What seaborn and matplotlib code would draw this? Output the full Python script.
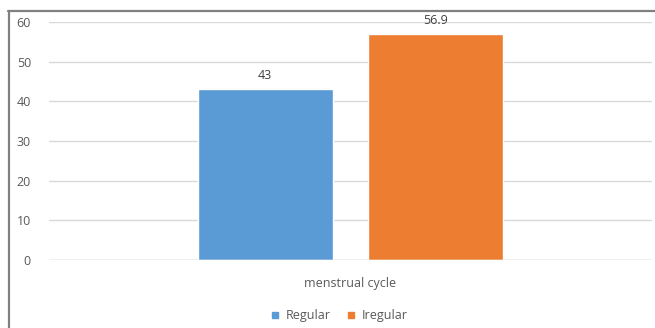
import matplotlib
matplotlib.use("Agg")
import matplotlib.pyplot as plt
from matplotlib.lines import Line2D
import seaborn as sns
import pandas as pd

categories = ["menstrual cycle"]
groups = ["Regular", "Iregular"]
values = [43, 56.9]
label_texts = ["43", "56.9"]
colors = ["#5B9BD5", "#ED7D31"]

df = pd.DataFrame({"cat": categories * 2, "group": groups, "value": values})

sns.set_style("white")
plt.rcParams["font.family"] = ["Open Sans", "DejaVu Sans"]
W, H = 655, 328
fig = plt.figure(figsize=(W / 100, H / 100), dpi=100)
ax = fig.add_axes([49 / W, (H - 260) / H, (652 - 49) / W, (260 - 22) / H])

sns.barplot(data=df, x="cat", y="value", hue="group", palette=colors,
            width=0.5655, gap=0.2055, ax=ax, legend=False, errorbar=None,
            saturation=1)

fs = 9
ax.set_ylim(0, 60)
ax.set_xlim(-0.5, 0.5)
ax.set_yticks(range(0, 61, 10))
ax.yaxis.grid(True, color="#d9d9d9", linewidth=1)
ax.set_axisbelow(True)
for s in ax.spines.values():
    s.set_visible(False)
ax.tick_params(axis="both", length=0, labelsize=fs, labelcolor="#595959")
ax.tick_params(axis="y", pad=13)
ax.tick_params(axis="x", pad=12)
ax.set_xlabel("")
ax.set_ylabel("")
ax.axhline(0, color="#d9d9d9", linewidth=1)

for cont, lab in zip(ax.containers, label_texts):
    ax.bar_label(cont, labels=[lab], padding=5, fontsize=fs, color="#404040")

handles = [Line2D([], [], marker="s", linestyle="", markersize=5,
                  markerfacecolor=c, markeredgecolor=c) for c in colors]
fig.legend(handles, groups, loc="center", bbox_to_anchor=(339 / W, 1 - 316 / H),
           ncol=2, frameon=False, fontsize=fs, labelcolor="#595959",
           handletextpad=0.45, columnspacing=1.2, handlelength=0.8)

border = "#808080"
fig.add_artist(Line2D([8.5 / W, 8.5 / W], [0, 1 - 10.5 / H], transform=fig.transFigure,
                      color=border, linewidth=1.6))
fig.add_artist(Line2D([8 / W, 1], [1 - 10.5 / H, 1 - 10.5 / H], transform=fig.transFigure,
                      color=border, linewidth=1.6))

fig.savefig("out.png", dpi=100)
